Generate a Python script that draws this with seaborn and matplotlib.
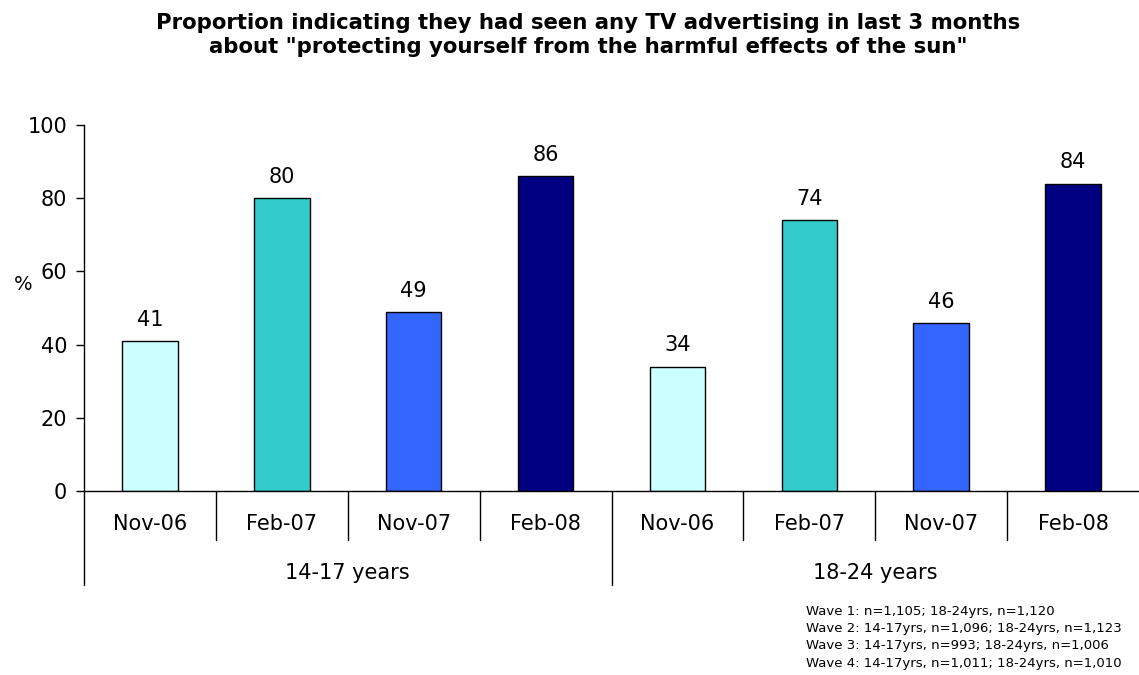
import matplotlib
matplotlib.use("Agg")
import matplotlib.pyplot as plt
import matplotlib.transforms as mtransforms
import seaborn as sns
import pandas as pd

# Survey waves and age groups
waves = ["Nov-06", "Feb-07", "Nov-07", "Feb-08"]
groups = ["14-17 years", "18-24 years"]
values_14_17 = [41, 80, 49, 86]
values_18_24 = [34, 74, 46, 84]
wave_colors = ["#CCFFFF", "#33CCCC", "#3366FF", "#000080"]
y_ticks = [0, 20, 40, 60, 80, 100]

title = ('Proportion indicating they had seen any TV advertising in last 3 months\n'
         'about "protecting yourself from the harmful effects of the sun"')
footnote = ("Wave 1: n=1,105; 18-24yrs, n=1,120\n"
            "Wave 2: 14-17yrs, n=1,096; 18-24yrs, n=1,123\n"
            "Wave 3: 14-17yrs, n=993; 18-24yrs, n=1,006\n"
            "Wave 4: 14-17yrs, n=1,011; 18-24yrs, n=1,010")

rows = []
for g, vals in zip(groups, [values_14_17, values_18_24]):
    for w, v in zip(waves, vals):
        rows.append({"slot": f"{g} {w}", "group": g, "wave": w, "value": v})
df = pd.DataFrame(rows)

sns.set_style("white")
plt.rcParams["font.family"] = ["DejaVu Sans"]
plt.rcParams["text.color"] = "black"
plt.rcParams["ytick.color"] = "black"
plt.rcParams["ytick.labelcolor"] = "black"

fig = plt.figure(figsize=(11.39, 6.75), dpi=100)
ax = fig.add_axes([84 / 1139, 1 - 491 / 675, 1 - 84 / 1139, (491 - 125) / 675])

sns.barplot(data=df, x="slot", y="value", hue="wave", hue_order=waves,
            palette=wave_colors, saturation=1, dodge=False, width=0.42,
            edgecolor="black", linewidth=1.0, legend=False, ax=ax)

for cont in ax.containers:
    ax.bar_label(cont, fmt="%d", padding=8, fontsize=15, color="black")

ax.set_xlim(-0.5, len(df) - 0.5)
ax.set_ylim(0, 100)
ax.set_yticks(y_ticks)
ax.tick_params(axis="y", length=6, width=1, direction="out", labelsize=15,
               left=True, pad=6, colors="black")
ax.tick_params(axis="x", length=0, bottom=False, labelbottom=False)
ax.set_xlabel("")
ax.set_ylabel("")

for side in ["top", "right"]:
    ax.spines[side].set_visible(False)
for side in ["left", "bottom"]:
    ax.spines[side].set_color("black")
    ax.spines[side].set_linewidth(1.0)

# Two-level category axis below the plot
trans = mtransforms.blended_transform_factory(ax.transData, ax.transAxes)
for i, w in enumerate(df["wave"]):
    ax.text(i, -0.09, w, transform=trans, ha="center", va="center", fontsize=15)
n_w = len(waves)
for gi, g in enumerate(groups):
    ax.text(gi * n_w + (n_w - 1) / 2, -0.225, g, transform=trans,
            ha="center", va="center", fontsize=15)
for i in range(len(df)):
    xpos = i - 0.5
    bottom = -0.257 if i % n_w == 0 else -0.134
    ax.plot([xpos, xpos], [0, bottom], transform=trans, color="black",
            linewidth=1.0, clip_on=False)

ax.text(-0.058, 0.565, "%", transform=ax.transAxes, ha="center", va="center", fontsize=14)

fig.text(588 / 1139, 1 - 35 / 675, title, ha="center", va="center", fontsize=15.3,
         fontweight="bold", linespacing=1.3)
fig.text(806 / 1139, 1 - 605 / 675, footnote, ha="left", va="top",
         fontsize=9.5, linespacing=1.42)

fig.savefig("out.png", dpi=100)
